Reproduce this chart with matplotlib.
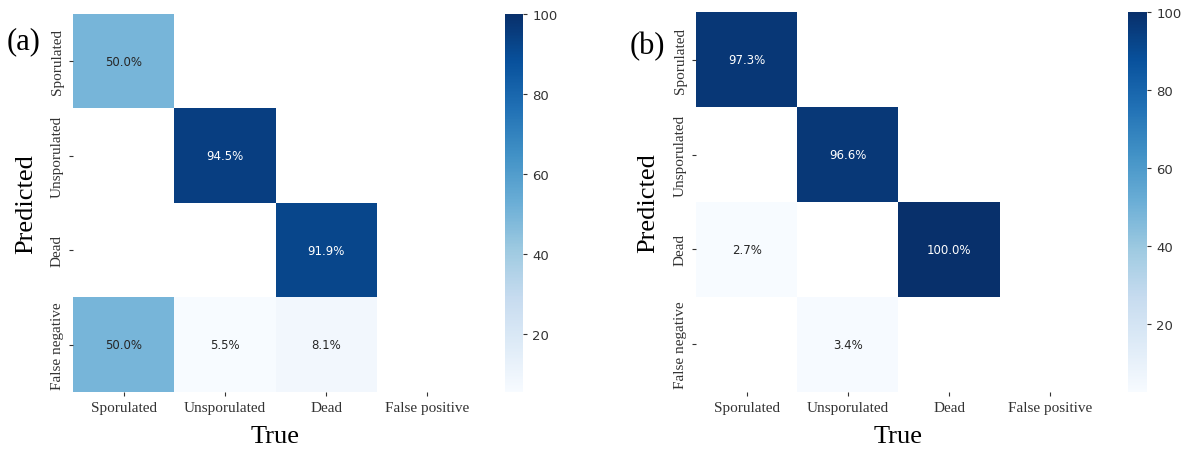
"""Confusion matrices for the two classifiers, side by side."""

import numpy as np
import matplotlib
matplotlib.use('Agg')
import matplotlib.pyplot as plt
import seaborn as sns

PRED_LABELS = ['Sporulated', 'Unsporulated', 'Dead', 'False negative']
TRUE_LABELS = ['Sporulated', 'Unsporulated', 'Dead', 'False positive']

# rows = predicted class, columns = true class (percent)
CM_A = [
    [50.0, 0.0, 0.0, 0.0],
    [0.0, 94.5, 0.0, 0.0],
    [0.0, 0.0, 91.9, 0.0],
    [50.0, 5.5, 8.1, 0.0],
]
CM_B = [
    [97.3, 0.0, 0.0, 0.0],
    [0.0, 96.6, 0.0, 0.0],
    [2.7, 0.0, 100.0, 0.0],
    [0.0, 3.4, 0.0, 0.0],
]
PANEL_TAGS = ['(a)', '(b)']

SERIF = 'Liberation Serif'


def draw_panel(fig, rect, cbar_rect, cm, tag, tag_xy, ylab_x):
    ax = fig.add_axes(rect)
    cax = fig.add_axes(cbar_rect)
    data = np.array(cm)
    mask = data == 0
    annot = np.array([[f'{v:.1f}%' if v != 0 else '' for v in row] for row in data])
    sns.heatmap(data, mask=mask, cmap='Blues', vmax=100, annot=annot, fmt='',
                annot_kws={'fontsize': 8.5}, ax=ax, cbar_ax=cax,
                xticklabels=TRUE_LABELS, yticklabels=PRED_LABELS)
    ax.set_xticklabels(TRUE_LABELS, fontfamily=SERIF, fontsize=11, rotation=0)
    ax.set_yticklabels(PRED_LABELS, fontfamily=SERIF, fontsize=11,
                       rotation=90, va='center')
    ax.set_xlabel('True', fontfamily=SERIF, fontsize=19, labelpad=8)
    ax.set_ylabel('Predicted', fontfamily=SERIF, fontsize=19)
    ax.yaxis.set_label_coords(ylab_x, 0.5)
    ax.tick_params(length=3, width=0.8, colors='#333333')
    cax.tick_params(labelsize=9.5, length=3, width=0.8, colors='#333333')
    cax.set_yticks([20, 40, 60, 80, 100])
    for sp in cax.spines.values():
        sp.set_visible(False)
    fig.text(tag_xy[0], tag_xy[1], tag, fontfamily=SERIF, fontsize=22,
             ha='left', va='center')
    return ax


fig = plt.figure(figsize=(11.85, 4.6), dpi=100)

draw_panel(fig, [0.0616, 0.1457, 0.3418, 0.8217], [0.4262, 0.1457, 0.0152, 0.8217],
           CM_A, PANEL_TAGS[0], (0.006, 0.91), -0.088)
draw_panel(fig, [0.5873, 0.1457, 0.3418, 0.8260], [0.9520, 0.1457, 0.0160, 0.8260],
           CM_B, PANEL_TAGS[1], (0.531, 0.898), -0.090)

fig.savefig('out.png', dpi=100)
